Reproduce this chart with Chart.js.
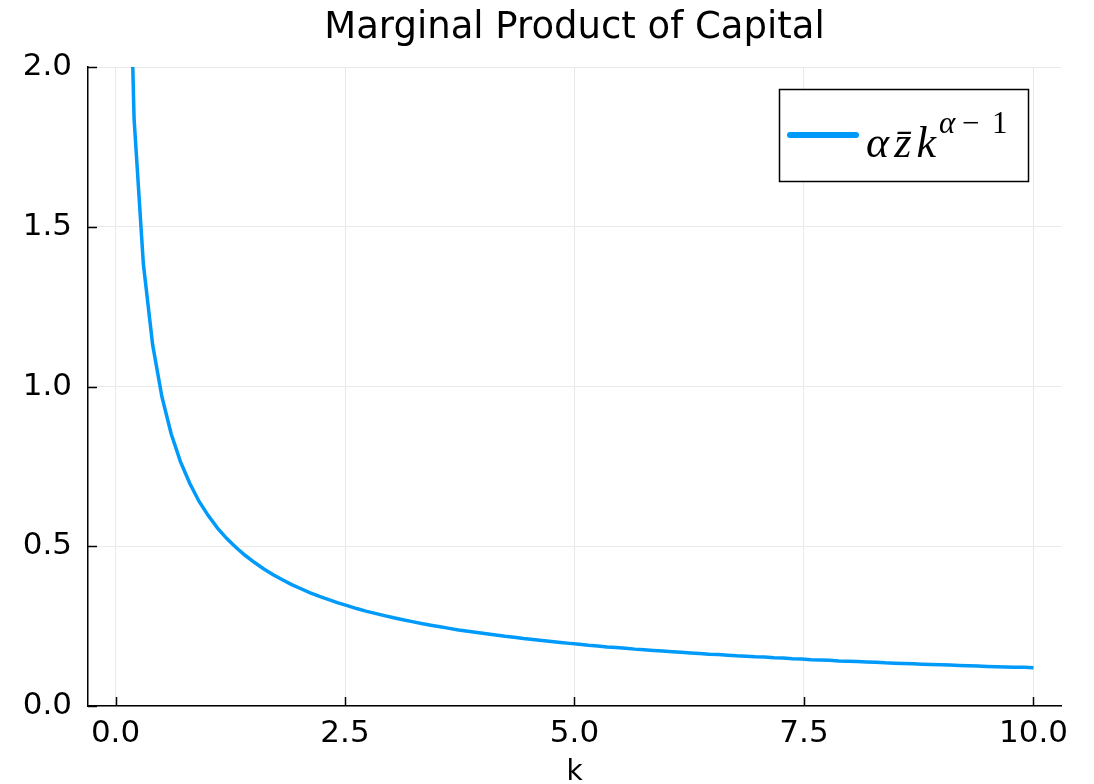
<!DOCTYPE html>
<html>
<head>
<meta charset="utf-8">
<title>Marginal Product of Capital</title>
<script src="https://cdn.jsdelivr.net/npm/chart.js@4/dist/chart.umd.min.js"></script>
<style>
  html, body { margin: 0; padding: 0; background: #ffffff; }
  #wrap { width: 1094px; height: 784px; }
</style>
</head>
<body>
<div id="wrap"><canvas id="mpk" width="1094" height="784"></canvas></div>
<script>
// capital stock grid
const kValues = [
  0.101, 0.202, 0.303, 0.404, 0.505, 0.606, 0.707, 0.808, 0.909, 1.010,
  1.111, 1.212, 1.313, 1.414, 1.515, 1.616, 1.717, 1.818, 1.919, 2.020,
  2.121, 2.222, 2.323, 2.424, 2.525, 2.626, 2.727, 2.828, 2.929, 3.030,
  3.131, 3.232, 3.333, 3.434, 3.535, 3.636, 3.737, 3.838, 3.939, 4.040,
  4.141, 4.242, 4.343, 4.444, 4.545, 4.646, 4.747, 4.848, 4.949, 5.051,
  5.152, 5.253, 5.354, 5.455, 5.556, 5.657, 5.758, 5.859, 5.960, 6.061,
  6.162, 6.263, 6.364, 6.465, 6.566, 6.667, 6.768, 6.869, 6.970, 7.071,
  7.172, 7.273, 7.374, 7.475, 7.576, 7.677, 7.778, 7.879, 7.980, 8.081,
  8.182, 8.283, 8.384, 8.485, 8.586, 8.687, 8.788, 8.889, 8.990, 9.091,
  9.192, 9.293, 9.394, 9.495, 9.596, 9.697, 9.798, 9.899, 10.000
];

// marginal product of capital at each k
const mpkValues = [
  2.986, 1.838, 1.384, 1.131, 0.968, 0.852, 0.765, 0.697, 0.641, 0.596,
  0.557, 0.524, 0.496, 0.471, 0.449, 0.429, 0.411, 0.395, 0.380, 0.367,
  0.354, 0.343, 0.333, 0.323, 0.314, 0.305, 0.297, 0.290, 0.283, 0.276,
  0.270, 0.264, 0.258, 0.253, 0.248, 0.243, 0.238, 0.234, 0.230, 0.226,
  0.222, 0.218, 0.215, 0.211, 0.208, 0.205, 0.202, 0.199, 0.196, 0.193,
  0.190, 0.188, 0.185, 0.183, 0.181, 0.178, 0.176, 0.174, 0.172, 0.170,
  0.168, 0.166, 0.164, 0.162, 0.161, 0.159, 0.157, 0.156, 0.154, 0.153,
  0.151, 0.150, 0.148, 0.147, 0.145, 0.144, 0.143, 0.141, 0.140, 0.139,
  0.138, 0.137, 0.135, 0.134, 0.133, 0.132, 0.131, 0.130, 0.129, 0.128,
  0.127, 0.126, 0.125, 0.124, 0.123, 0.122, 0.121, 0.121, 0.120
];

const xTickValues = [0, 2.5, 5, 7.5, 10];
const yTickValues = [0, 0.5, 1, 1.5, 2];

const seriesColor = '#009AFA';
const sansFont = '"DejaVu Sans", sans-serif';
const mathFont = '"Liberation Serif", "DejaVu Serif", serif';

// short inward tick marks on the left and bottom axes
const innerTicks = {
  id: 'innerTicks',
  afterDatasetsDraw(chart) {
    const { ctx, chartArea: a, scales: { x, y } } = chart;
    ctx.save();
    ctx.strokeStyle = '#000000';
    ctx.lineWidth = 1.5;
    ctx.beginPath();
    xTickValues.forEach(v => {
      const px = Math.round(x.getPixelForValue(v)) + 0.5;
      ctx.moveTo(px, a.bottom);
      ctx.lineTo(px, a.bottom - 9);
    });
    yTickValues.forEach(v => {
      const py = Math.round(y.getPixelForValue(v)) + 0.5;
      ctx.moveTo(a.left, py);
      ctx.lineTo(a.left + 9, py);
    });
    ctx.stroke();
    ctx.restore();
  }
};

// framed legend with the formula label
const formulaLegend = {
  id: 'formulaLegend',
  afterDraw(chart) {
    const { ctx } = chart;
    const box = { x: 779.5, y: 89.5, w: 249, h: 92 };
    ctx.save();
    ctx.fillStyle = '#ffffff';
    ctx.fillRect(box.x, box.y, box.w, box.h);
    ctx.strokeStyle = '#000000';
    ctx.lineWidth = 1.5;
    ctx.strokeRect(box.x, box.y, box.w, box.h);

    ctx.strokeStyle = seriesColor;
    ctx.lineWidth = 6;
    ctx.lineCap = 'round';
    ctx.beginPath();
    ctx.moveTo(790, 135);
    ctx.lineTo(856, 135);
    ctx.stroke();

    ctx.fillStyle = '#000000';
    ctx.textBaseline = 'alphabetic';
    ctx.textAlign = 'left';
    const base = 157;
    const sup = 133;
    ctx.font = 'italic 44px ' + mathFont;
    const wA = ctx.measureText('α').width;
    const wZ = ctx.measureText('z').width;
    const wK = ctx.measureText('k').width;
    const xA = 866;
    const xK = 936 - wK;
    const xZ = xA + wA + (xK - xA - wA - wZ) / 2;
    ctx.fillText('α', xA, base);
    ctx.fillText('z\u0304', xZ, base);
    ctx.fillText('k', xK, base);

    ctx.font = 'italic 31px ' + mathFont;
    ctx.fillText('α', 939, sup);
    ctx.font = '31px ' + mathFont;
    ctx.fillText('−', 962, sup);
    ctx.fillText('1', 992, sup);
    ctx.restore();
  }
};

new Chart(document.getElementById('mpk'), {
  type: 'line',
  data: {
    datasets: [{
      label: 'αz̄k^(α−1)',
      data: kValues.map((k, i) => ({ x: k, y: mpkValues[i] })),
      borderColor: seriesColor,
      borderWidth: 3.5,
      pointRadius: 0,
      tension: 0,
      fill: false
    }]
  },
  options: {
    responsive: false,
    animation: false,
    layout: { padding: { top: 0, right: 33, bottom: 0, left: 0 } },
    plugins: {
      legend: { display: false },
      tooltip: { enabled: false },
      title: {
        display: true,
        fullSize: false,
        text: 'Marginal Product of Capital',
        color: '#000000',
        font: { family: sansFont, size: 37, weight: 'normal', lineHeight: 1.2 },
        padding: { top: 5.8, bottom: 16.8 }
      }
    },
    scales: {
      x: {
        type: 'linear',
        min: -0.3,
        max: 10.3,
        afterFit(scale) { scale.height = 78; },
        afterBuildTicks(scale) { scale.ticks = xTickValues.map(v => ({ value: v })); },
        grid: { color: '#e9e9e9', lineWidth: 1, drawTicks: false },
        border: { color: '#000000', width: 1.5 },
        ticks: {
          color: '#000000',
          font: { family: sansFont, size: 31 },
          padding: 9,
          maxRotation: 0,
          callback: v => Number(v).toFixed(1)
        },
        title: {
          display: true,
          text: 'k',
          color: '#000000',
          font: { family: sansFont, size: 28, lineHeight: 1 },
          padding: { top: 0, bottom: -3 }
        }
      },
      y: {
        type: 'linear',
        min: 0,
        max: 2,
        afterFit(scale) { scale.width = 88; },
        afterBuildTicks(scale) { scale.ticks = yTickValues.map(v => ({ value: v })); },
        grid: { color: '#e9e9e9', lineWidth: 1, drawTicks: false },
        border: { color: '#000000', width: 1.5 },
        ticks: {
          color: '#000000',
          font: { family: sansFont, size: 31 },
          padding: 16,
          callback: v => Number(v).toFixed(1)
        }
      }
    }
  },
  plugins: [innerTicks, formulaLegend]
});
</script>
</body>
</html>
